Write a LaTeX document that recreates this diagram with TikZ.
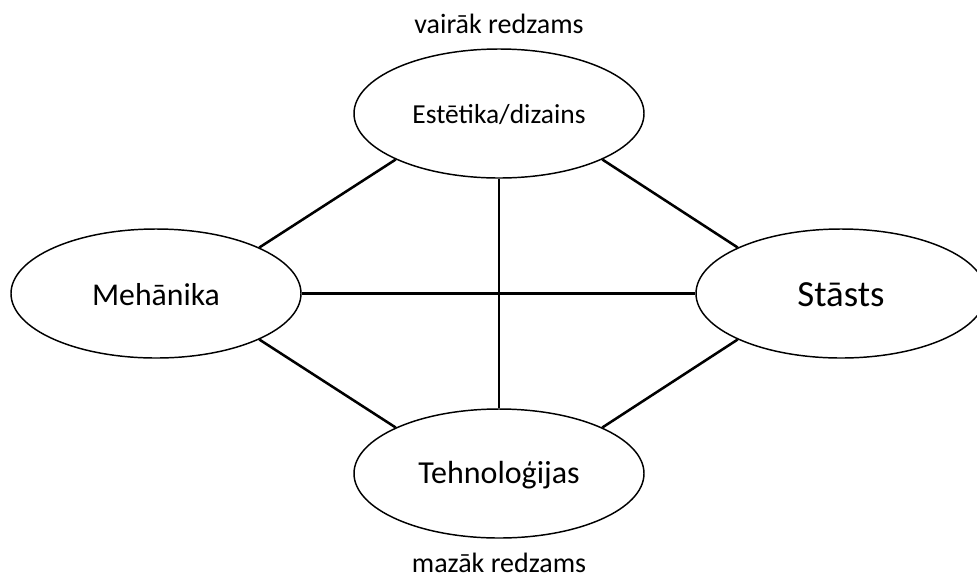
\documentclass[tikz,border=0pt]{standalone}
\usepackage{fontspec}
\setmainfont{Carlito}
\usetikzlibrary{shapes.geometric}
\begin{document}
\begin{tikzpicture}[x=0.75pt,y=-0.75pt,
  topic/.style={draw, ellipse, line width=1.1pt, inner sep=0pt,
    text depth=0pt,
    minimum width=217.5pt, minimum height=96.75pt},
  link/.style={line width=1.9pt},
  caption/.style={anchor=base, inner sep=0pt, font=\fontsize{21}{25}\selectfont}]
  \useasboundingbox (0,0) rectangle (977,576);
  \clip (0,0) rectangle (977,576);

  % the four topics
  \node[topic, text height=14.25pt, font=\fontsize{20.6}{25}\selectfont] (aest) at (499,113.5) {Estētika/dizains};
  \node[topic, text height=17.25pt, font=\fontsize{23.8}{28}\selectfont] (mech) at (156,293.5) {Mehānika};
  \node[topic, text height=18.75pt, font=\fontsize{27.6}{32}\selectfont] (story) at (841,293.5) {Stāsts};
  \node[topic, text height=14.25pt, font=\fontsize{24}{28}\selectfont]   (tech) at (499,473.5) {Tehnoloģijas};

  % visibility scale
  \node[caption] (more) at (499,33) {vairāk redzams};
  \node[caption] (less) at (499,572) {mazāk redzams};

  % links between all topics
  \draw[link] (aest.204) -- (mech.24);
  \draw[link] (aest.336) -- (story.156);
  \draw[link] (mech.336) -- (tech.156);
  \draw[link] (story.204) -- (tech.24);
  \draw[link] (mech.east) -- (story.west);
  \draw[link] (aest.south) -- (tech.north);
\end{tikzpicture}
\end{document}
